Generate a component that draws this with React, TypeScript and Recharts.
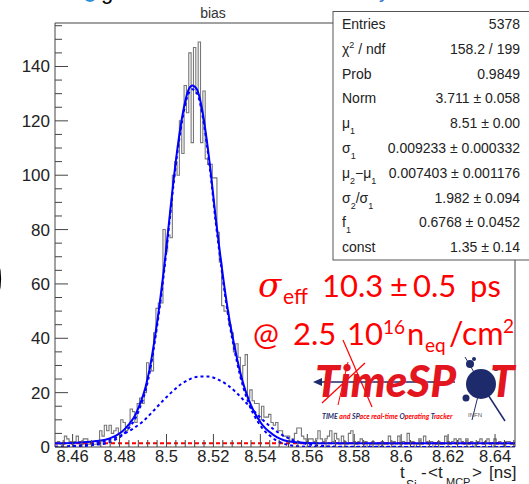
import React from "react";
import { ComposedChart, Line, XAxis, YAxis, ReferenceArea } from "recharts";

// histogram: 0.001 ns bins, first bin starts at 8.4525
const BIN_START = 8.4525;
const BIN_WIDTH = 0.001;
const X_MIN = 8.4525;
const X_MAX = 8.6485;
const Y_MAX = 156;

const counts = [
  1, 2, 1, 1, 4, 3, 2, 1, 2, 4,
  2, 1, 3, 3, 1, 2, 1, 1, 2, 6,
  4, 8, 6, 8, 5, 6, 7, 5, 10, 9,
  6, 8, 14, 13, 9, 16, 18, 16, 20, 31,
  29, 28, 42, 51, 53, 53, 80, 72, 78, 77,
  100, 105, 100, 120, 108, 133, 123, 145, 112, 147,
  130, 149, 112, 131, 106, 104, 104, 99, 99, 79,
  68, 52, 50, 50, 45, 42, 35, 38, 33, 25,
  30, 34, 18, 21, 17, 16, 16, 10, 15, 11,
  11, 12, 9, 8, 9, 6, 6, 4, 4, 4,
  2, 3, 5, 7, 7, 4, 3, 2, 3, 3,
  2, 3, 6, 3, 2, 3, 4, 6, 2, 5,
  3, 1, 4, 2, 1, 5, 6, 2, 1, 2,
  3, 1, 2, 0, 1, 2, 1, 1, 0, 2,
  1, 1, 4, 1, 2, 1, 4, 1, 2, 1,
  5, 1, 2, 0, 1, 3, 1, 4, 2, 1,
  2, 0, 1, 2, 1, 1, 4, 2, 1, 2,
  3, 1, 3, 2, 1, 3, 1, 2, 0, 1,
  2, 3, 1, 2, 3, 1, 0, 3, 1, 2,
  1, 0, 2, 2, 1, 1,
];

// fit curves
const fitX = [
  8.4525, 8.46, 8.466, 8.47, 8.474, 8.478, 8.481, 8.484, 8.487, 8.489,
  8.491, 8.493, 8.495, 8.497, 8.499, 8.501, 8.503, 8.505, 8.507, 8.509,
  8.511, 8.513, 8.515, 8.517, 8.519, 8.521, 8.523, 8.525, 8.527, 8.529,
  8.531, 8.533, 8.535, 8.537, 8.539, 8.541, 8.544, 8.547, 8.55, 8.554,
  8.56, 8.57, 8.6485,
];
const fitTotal = [
  1.4, 1.5, 1.8, 2.2, 2.7, 4.0, 5.6, 8.3, 12.3, 16.5,
  21.8, 29.5, 40, 52, 66, 82, 98, 112, 123, 130.5,
  133, 131.5, 125, 114, 100, 84, 70, 57, 46, 37,
  29, 22.5, 17.5, 13.5, 10.5, 8, 5.5, 3.6, 2.5, 1.8,
  1.45, 1.36, 1.35,
];
const fitSignal = [
  0.05, 0.15, 0.45, 0.85, 1.3, 2.6, 4.2, 7, 11, 15.2,
  20.5, 28.2, 38.6, 50.6, 64.6, 80.6, 96.6, 110.6, 121.6, 129.2,
  131.6, 130.2, 123.6, 112.6, 98.6, 82.6, 68.6, 55.6, 44.6, 35.6,
  27.6, 21.2, 16.2, 12.2, 9.2, 6.7, 4.2, 2.3, 1.2, 0.45,
  0.1, 0.02, 0,
];
const broadX = [
  8.4525, 8.458, 8.464, 8.47, 8.474, 8.478, 8.482, 8.486, 8.49, 8.494,
  8.498, 8.502, 8.506, 8.51, 8.514, 8.518, 8.522, 8.526, 8.53, 8.534,
  8.538, 8.542, 8.546, 8.55, 8.554, 8.558, 8.562, 8.568, 8.576, 8.6485,
];
const broadY = [
  0.1, 0.3, 0.7, 1.4, 2.1, 3.3, 4.9, 6.9, 9.4, 12.9,
  16.6, 20, 23, 25, 25.9, 25.9, 24.8, 22.8, 19.8, 16.2,
  12.6, 9.2, 6.3, 4.1, 2.5, 1.4, 0.8, 0.3, 0.1, 0,
];
const constValue = 1.35;

const xMajorTicks = [8.46, 8.48, 8.5, 8.52, 8.54, 8.56, 8.58, 8.6, 8.62, 8.64];
const xTickLabels = ["8.46", "8.48", "8.5", "8.52", "8.54", "8.56", "8.58", "8.6", "8.62", "8.64"];
const yMajorTicks = [0, 20, 40, 60, 80, 100, 120, 140];
const yTickLabels = ["0", "20", "40", "60", "80", "100", "120", "140"];

const statsLabels = ["Entries", "chi2", "Prob", "Norm", "mu1", "sigma1", "dmu", "sratio", "f1", "const"];
const statsValues = [
  "5378",
  "158.2 / 199",
  "0.9849",
  "3.711 \u00b1 0.058",
  "8.51 \u00b1 0.00",
  "0.009233 \u00b1 0.000332",
  "0.007403 \u00b1 0.001176",
  "1.982 \u00b1 0.094",
  "0.6768 \u00b1 0.0452",
  "1.35 \u00b1 0.14",
];

const histData = [
  ...counts.map((c, i) => ({ x: BIN_START + i * BIN_WIDTH, y: c })),
  { x: BIN_START + counts.length * BIN_WIDTH, y: counts[counts.length - 1] },
];
const totalData = fitX.map((x, i) => ({ x, y: fitTotal[i] }));
const signalData = fitX.map((x, i) => ({ x, y: fitSignal[i] }));
const broadData = broadX.map((x, i) => ({ x, y: broadY[i] }));
const constData = [
  { x: X_MIN, y: constValue },
  { x: X_MAX, y: constValue },
];

// minor ticks every 0.004 / 5 counts, majors every 0.02 / 20
const xTicks: number[] = [];
for (let k = 0; k <= 48; k++) xTicks.push(Math.round((8.456 + k * 0.004) * 1000) / 1000);
const yTicks: number[] = [];
for (let v = 0; v <= 155; v += 5) yTicks.push(v);

const PLOT_LEFT = 55;
const PLOT_BOTTOM = 447;
const AXIS_FONT = "'Liberation Sans', Arial, sans-serif";
const AXIS_COLOR = "#444";

const XTick = (props: any) => {
  const { x, payload } = props;
  const idx = xMajorTicks.findIndex((m) => Math.abs(m - payload.value) < 1e-6);
  const major = idx >= 0;
  return (
    <g>
      <line x1={x} x2={x} y1={PLOT_BOTTOM} y2={PLOT_BOTTOM - (major ? 13 : 7)} stroke={AXIS_COLOR} />
      {major && (
        <text x={x} y={462} textAnchor="middle" fontSize={16.5} fontFamily={AXIS_FONT} fill="#222">
          {xTickLabels[idx]}
        </text>
      )}
    </g>
  );
};

const YTick = (props: any) => {
  const { y, payload } = props;
  const idx = yMajorTicks.indexOf(payload.value);
  const major = idx >= 0;
  return (
    <g>
      <line x1={PLOT_LEFT} x2={PLOT_LEFT + (major ? 13 : 7)} y1={y} y2={y} stroke={AXIS_COLOR} />
      {major && (
        <text x={50} y={y + 6} textAnchor="end" fontSize={17} fontFamily={AXIS_FONT} fill="#222">
          {yTickLabels[idx]}
        </text>
      )}
    </g>
  );
};

const StatLabel = ({ name }: { name: string }) => {
  const sub = { fontSize: 9, dy: 6 } as const;
  switch (name) {
    case "chi2":
      return (
        <>
          {"\u03c7"}
          <tspan fontSize={9} dy={-6}>2</tspan>
          <tspan dy={6}> / ndf</tspan>
        </>
      );
    case "mu1":
      return (
        <>
          {"\u03bc"}
          <tspan {...sub}>1</tspan>
        </>
      );
    case "sigma1":
      return (
        <>
          {"\u03c3"}
          <tspan {...sub}>1</tspan>
        </>
      );
    case "dmu":
      return (
        <>
          {"\u03bc"}
          <tspan {...sub}>2</tspan>
          <tspan dy={-6}>{"\u2212\u03bc"}</tspan>
          <tspan {...sub}>1</tspan>
        </>
      );
    case "sratio":
      return (
        <>
          {"\u03c3"}
          <tspan {...sub}>2</tspan>
          <tspan dy={-6}>{"/\u03c3"}</tspan>
          <tspan {...sub}>1</tspan>
        </>
      );
    case "f1":
      return (
        <>
          f<tspan {...sub}>1</tspan>
        </>
      );
    default:
      return <>{name}</>;
  }
};

const Overlay = () => {
  const red = "#ff0000";
  const navy = "#1d2a6b";
  const slide = "Lato, 'Open Sans', sans-serif";
  return (
    <svg
      width={529}
      height={484}
      style={{ position: "absolute", left: 0, top: 0, pointerEvents: "none" }}
    >
      {/* slide fragments at the top edge */}
      <circle cx={90} cy={-4} r={6} fill="#2f8fd8" />
      <text x={101} y={-1} fontSize={22} fontFamily={AXIS_FONT} fill="#000">g</text>
      <text x={379} y={-2} fontSize={20} fontFamily={AXIS_FONT} fill="#2f6fd8">y</text>

      {/* title */}
      <text x={213} y={18} textAnchor="middle" fontSize={14} fontFamily={AXIS_FONT} fill="#333">
        bias
      </text>

      {/* slide fragment at the left edge */}
      <text x={-17} y={296} fontSize={64} fontWeight={700} fontFamily={AXIS_FONT} fill="#000">
        )
      </text>

      {/* stats box */}
      <rect x={333} y={11.5} width={210} height={248.5} fill="#fff" stroke="#555" />
      {statsLabels.map((name, i) => (
        <g key={name} fontFamily={AXIS_FONT} fontSize={14} fill="#222">
          <text x={342} y={29 + i * 24.8}>
            <StatLabel name={name} />
          </text>
          <text x={520} y={29 + i * 24.8} textAnchor="end">
            {statsValues[i]}
          </text>
        </g>
      ))}

      {/* resolution annotation */}
      <g fill={red} fontFamily={slide}>
        <text x={258} y={297} fontSize={34} fontStyle="italic" fontFamily="'DejaVu Serif', serif">
          {"\u03c3"}
        </text>
        <text x={283} y={304} fontSize={21}>eff</text>
        <text x={322} y={297} fontSize={31}>10.3</text>
        <text x={390} y={297} fontSize={31}>{"\u00b1"}</text>
        <text x={413} y={297} fontSize={31}>0.5</text>
        <text x={470} y={297} fontSize={31}>ps</text>

        <text x={253} y={345} fontSize={31}>@</text>
        <text x={293} y={345} fontSize={31}>2.5</text>
        <text x={347} y={345} fontSize={31}>10</text>
        <text x={383} y={334} fontSize={19}>16</text>
        <text x={407} y={345} fontSize={31}>n</text>
        <text x={425} y={352} fontSize={19}>eq</text>
        <text x={449} y={345} fontSize={32}>/cm</text>
        <text x={503} y={333} fontSize={19}>2</text>
      </g>

      {/* TimeSPOT logo */}
      <g>
        <line x1={343} y1={340} x2={372} y2={407} stroke={red} strokeWidth={1.2} />
        <line x1={322} y1={403} x2={365} y2={363} stroke={red} strokeWidth={1.2} />
        <line x1={338} y1={405} x2={348} y2={362} stroke={red} strokeWidth={1} />
        <line x1={320} y1={382} x2={455} y2={382} stroke={navy} strokeWidth={1.5} />
        <polygon points="313,382 322,378 322,386" fill={navy} />
        <text x={315} y={397} fontSize={44} fontWeight={900} fontStyle="italic" fontFamily={slide} fill="#e3151e">
          TimeSP
        </text>
        <circle cx={481} cy={384} r={15} fill={navy} />
        <circle cx={470} cy={364} r={4} fill={navy} />
        <circle cx={496} cy={368} r={3} fill={navy} />
        <circle cx={466} cy={398} r={3.5} fill={navy} />
        <circle cx={474} cy={359} r={2} fill={navy} />
        <line x1={481} y1={384} x2={505} y2={421} stroke={navy} strokeWidth={1.5} />
        <line x1={481} y1={384} x2={472} y2={420} stroke={navy} strokeWidth={1} />
        <line x1={481} y1={384} x2={465} y2={357} stroke={navy} strokeWidth={1} />
        <text x={490} y={397} fontSize={44} fontWeight={900} fontStyle="italic" fontFamily={slide} fill="#e3151e">
          T
        </text>
        <text x={322} y={419} fontSize={7} fontWeight={700} fontStyle="italic" fontFamily={slide}>
          <tspan fill={navy}>TIME</tspan>
          <tspan fill={red}> and </tspan>
          <tspan fill={navy}>SP</tspan>
          <tspan fill={red}>ace real-time </tspan>
          <tspan fill={navy}>O</tspan>
          <tspan fill={red}>perating </tspan>
          <tspan fill={navy}>T</tspan>
          <tspan fill={red}>racker</tspan>
        </text>
        <text x={468} y={417} fontSize={6} fontFamily={AXIS_FONT} fill="#555">
          INFN
        </text>
      </g>

      {/* x-axis title */}
      <g fontFamily={AXIS_FONT} fill="#222">
        <text x={400} y={478} fontSize={17}>t</text>
        <text x={406} y={489} fontSize={12}>Si</text>
        <text x={421} y={478} fontSize={17}>-</text>
        <text x={428} y={478} fontSize={17}>{"<t"}</text>
        <text x={446} y={486} fontSize={11}>MCP</text>
        <text x={472} y={478} fontSize={17}>{">"}</text>
        <text x={489} y={478} fontSize={17}>[ns]</text>
      </g>
    </svg>
  );
};

export default function App() {
  return (
    <div style={{ position: "absolute", left: 0, top: 0, width: 529, height: 484, background: "#fff" }}>
      <ComposedChart
        width={529}
        height={484}
        margin={{ top: 23, right: 14, bottom: 7, left: 0 }}
      >
        <XAxis
          dataKey="x"
          type="number"
          domain={[X_MIN, X_MAX]}
          allowDataOverflow
          ticks={xTicks}
          interval={0}
          tick={<XTick />}
          tickLine={false}
          axisLine={false}
          height={30}
        />
        <YAxis
          type="number"
          domain={[0, Y_MAX]}
          allowDataOverflow
          ticks={yTicks}
          interval={0}
          tick={<YTick />}
          tickLine={false}
          axisLine={false}
          width={55}
        />
        <ReferenceArea
          x1={X_MIN}
          x2={X_MAX}
          y1={0}
          y2={Y_MAX}
          fill="none"
          fillOpacity={0}
          stroke={AXIS_COLOR}
          strokeWidth={1}
          ifOverflow="visible"
        />
        <Line
          data={histData}
          dataKey="y"
          type="stepAfter"
          stroke="#777"
          strokeWidth={1.1}
          dot={false}
          isAnimationActive={false}
        />
        <Line
          data={constData}
          dataKey="y"
          type="linear"
          stroke="#ff0000"
          strokeWidth={2}
          strokeDasharray="4 3"
          dot={false}
          isAnimationActive={false}
        />
        <Line
          data={broadData}
          dataKey="y"
          type="monotone"
          stroke="#0000ff"
          strokeWidth={2}
          strokeDasharray="3 3"
          dot={false}
          isAnimationActive={false}
        />
        <Line
          data={signalData}
          dataKey="y"
          type="monotone"
          stroke="#0000ff"
          strokeWidth={2}
          strokeDasharray="3 3"
          dot={false}
          isAnimationActive={false}
        />
        <Line
          data={totalData}
          dataKey="y"
          type="monotone"
          stroke="#0000ff"
          strokeWidth={2}
          dot={false}
          isAnimationActive={false}
        />
      </ComposedChart>
      <Overlay />
    </div>
  );
}
